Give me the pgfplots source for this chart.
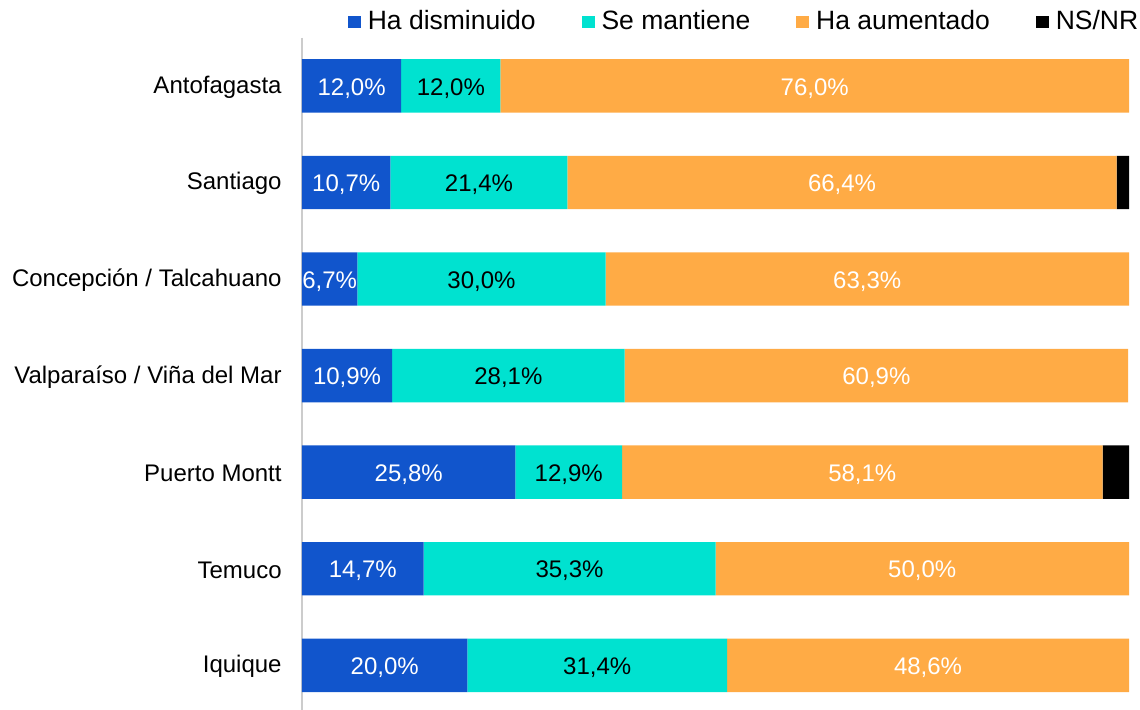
\documentclass[border=0pt]{standalone}
\usepackage{fontspec}
\setmainfont{Liberation Sans}
\usepackage{pgfplots}
\usepackage{pgfplotstable}
\pgfplotsset{compat=1.18}
\definecolor{cblue}{HTML}{1155CC}
\definecolor{cteal}{HTML}{00E2D0}
\definecolor{corange}{HTML}{FFAB45}
\pgfplotstableread{
idx a b c d
0 12.0 12.0 76.0 0
1 10.7 21.4 66.4 1.5
2 6.7 30.0 63.3 0
3 10.9 28.1 60.9 0
4 25.8 12.9 58.1 3.2
5 14.7 35.3 50.0 0
6 20.0 31.4 48.6 0
}\data
\pgfplotsset{
  common/.style={
    scale only axis, width=413.5pt, height=338pt,
    xmin=0, xmax=100, ymin=-0.5, ymax=6.5, y dir=reverse,
  },
  lbl/.style={draw=none, mark=none, point meta=explicit,
    nodes near coords={\pgfmathprintnumber[assume math mode=true,fixed,fixed zerofill,precision=1,use comma]{\pgfplotspointmeta}\%},
    every node near coord/.append style={anchor=center, yshift=-1.2pt, text=#1, font=\fontsize{12}{14}\selectfont}},
}
\begin{document}
\fontsize{12}{14}\selectfont
\begin{tikzpicture}
\useasboundingbox (-151pt,1.8pt) rectangle (419pt,356.8pt);
\begin{axis}[common, name=ax,
  xbar stacked, bar width=26.7pt,
  axis x line=none, axis y line=left,
  y axis line style={-, draw=black!20, line width=0.8pt},
  ytick={0,...,6}, major tick length=0pt,
  yticklabels={Antofagasta, Santiago, Concepción / Talcahuano, Valparaíso / Viña del Mar, Puerto Montt, Temuco, Iquique},
  yticklabel style={anchor=east, inner sep=0pt, xshift=-10pt, yshift=-0.6pt, font=\fontsize{12}{14}\selectfont},
  legend columns=4,
  legend style={draw=none, fill=none, at={(1.0165,1.023)}, anchor=east,
    font=\fontsize{13.25}{15}\selectfont, inner sep=0pt,
    /tikz/every odd column/.append style={column sep=1.5pt},
    /tikz/every even column/.append style={column sep=21pt}},
  legend image code/.code={\fill[#1, draw=none] (0pt,-3.2pt) rectangle (6.4pt,3.2pt);},
]
\addplot[fill=cblue, draw=none] table[x=a, y=idx] {\data};
\addplot[fill=cteal, draw=none] table[x=b, y=idx] {\data};
\addplot[fill=corange, draw=none] table[x=c, y=idx] {\data};
\addplot[fill=black, draw=none] table[x=d, y=idx] {\data};
\legend{Ha disminuido, Se mantiene, Ha aumentado, NS/NR}
\end{axis}
\begin{axis}[common, hide axis]
\addplot[lbl=white] table[x expr=\thisrow{a}/2, y=idx, meta=a] {\data};
\addplot[lbl=black] table[x expr=\thisrow{a}+\thisrow{b}/2, y=idx, meta=b] {\data};
\addplot[lbl=white] table[x expr=\thisrow{a}+\thisrow{b}+\thisrow{c}/2, y=idx, meta=c] {\data};
\end{axis}
\end{tikzpicture}
\end{document}
